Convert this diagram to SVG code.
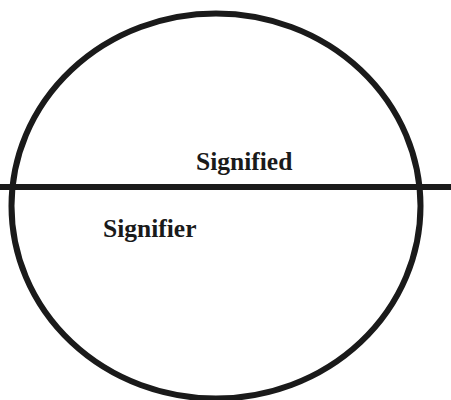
<svg xmlns="http://www.w3.org/2000/svg" width="451" height="400" viewBox="0 0 451 400">
<style>
.shape{fill:none;stroke:#1a1a1a;stroke-width:6}
.lbl{font-family:"Liberation Serif","Times New Roman",serif;font-weight:bold;font-size:25.5px;fill:#1a1a1a}
</style>
<rect width="451" height="400" fill="#fff"/>
<g id="circle"><ellipse class="shape" cx="216" cy="206" rx="204.5" ry="192.5"/></g>
<g id="connectors"><line class="shape" x1="0" y1="187" x2="451" y2="187"/></g>
<g id="signified"><text class="lbl" x="196" y="170">Signified</text></g>
<g id="signifier"><text class="lbl" x="103" y="237">Signifier</text></g>
</svg>
